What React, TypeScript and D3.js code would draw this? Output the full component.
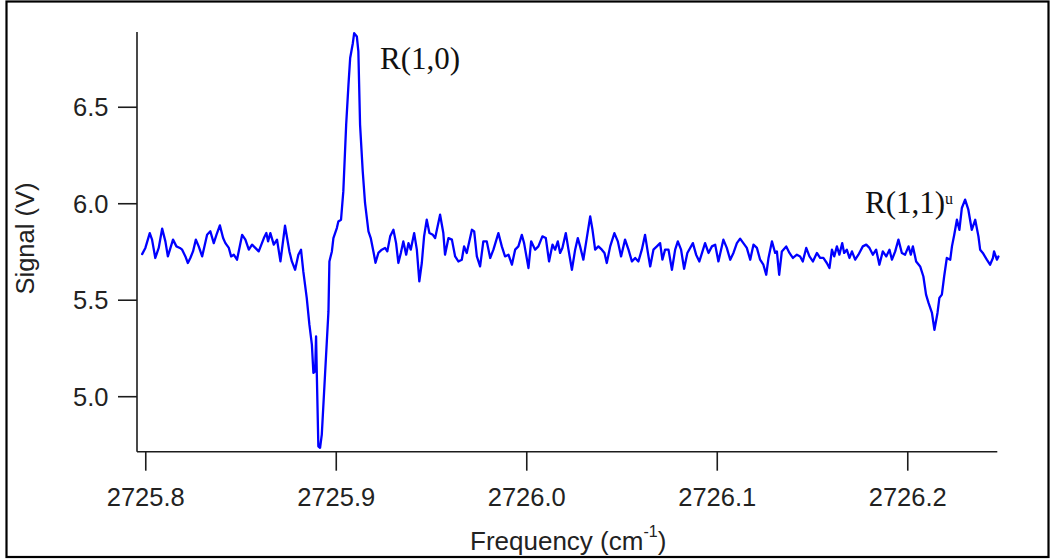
import React from "react";
import * as d3 from "d3";

const freq: number[] = [
  2725.7981, 2725.7998, 2725.8021, 2725.8033, 2725.805, 2725.8068, 2725.8086, 2725.8103, 2725.8116, 2725.8143,
  2725.8161, 2725.8179, 2725.8191, 2725.8208, 2725.8221, 2725.8234, 2725.8248, 2725.8263, 2725.8278, 2725.8296,
  2725.8322, 2725.8339, 2725.8357, 2725.8371, 2725.8389, 2725.8406, 2725.8418, 2725.8436, 2725.8448, 2725.8462,
  2725.8479, 2725.8488, 2725.8506, 2725.8523, 2725.8541, 2725.8558, 2725.8575, 2725.8593, 2725.862, 2725.8633,
  2725.8642, 2725.8654, 2725.8672, 2725.8689, 2725.8707, 2725.8731, 2725.8754, 2725.8767, 2725.8784, 2725.8801,
  2725.8815, 2725.8827, 2725.8845, 2725.8859, 2725.8872, 2725.888, 2725.8889, 2725.8894, 2725.8898, 2725.8906,
  2725.8915, 2725.8924, 2725.8941, 2725.8959, 2725.8964, 2725.8977, 2725.8985, 2725.9003, 2725.9011, 2725.9025,
  2725.9037, 2725.9052, 2725.9064, 2725.9073, 2725.9087, 2725.9094, 2725.9108, 2725.9116, 2725.9125, 2725.9139,
  2725.9151, 2725.9169, 2725.9181, 2725.9195, 2725.9206, 2725.9221, 2725.9239, 2725.9256, 2725.9268, 2725.9283,
  2725.93, 2725.9314, 2725.9326, 2725.9339, 2725.9352, 2725.9367, 2725.9379, 2725.9391, 2725.9409, 2725.9423,
  2725.9436, 2725.9449, 2725.9461, 2725.9475, 2725.9489, 2725.9507, 2725.9519, 2725.9545, 2725.9562, 2725.9571,
  2725.9589, 2725.9607, 2725.9624, 2725.9641, 2725.9659, 2725.9671, 2725.9685, 2725.9712, 2725.9724, 2725.9738,
  2725.9755, 2725.9772, 2725.979, 2725.9808, 2725.9825, 2725.9851, 2725.9869, 2725.9886, 2725.9904, 2725.9922,
  2725.9939, 2725.9956, 2725.9974, 2725.9986, 2726.0009, 2726.0023, 2726.0044, 2726.0061, 2726.0082, 2726.01,
  2726.0117, 2726.0135, 2726.0149, 2726.0163, 2726.0175, 2726.0187, 2726.0205, 2726.0219, 2726.0237, 2726.0254,
  2726.0268, 2726.028, 2726.0297, 2726.0315, 2726.0333, 2726.0345, 2726.0359, 2726.0376, 2726.0394, 2726.0408,
  2726.042, 2726.0438, 2726.046, 2726.0478, 2726.0495, 2726.0516, 2726.0534, 2726.0552, 2726.0569, 2726.0586,
  2726.0604, 2726.0621, 2726.0636, 2726.0648, 2726.0665, 2726.0683, 2726.07, 2726.0712, 2726.0726, 2726.0744,
  2726.0762, 2726.0779, 2726.0793, 2726.081, 2726.0826, 2726.0843, 2726.0872, 2726.0889, 2726.0906, 2726.0936,
  2726.0954, 2726.0972, 2726.0989, 2726.1006, 2726.1032, 2726.105, 2726.1068, 2726.1085, 2726.1103, 2726.112,
  2726.1137, 2726.1155, 2726.1173, 2726.119, 2726.1208, 2726.1225, 2726.1242, 2726.1257, 2726.1269, 2726.1287,
  2726.1304, 2726.1313, 2726.1325, 2726.1339, 2726.1362, 2726.1379, 2726.1397, 2726.1418, 2726.1435, 2726.1449,
  2726.1467, 2726.1484, 2726.1502, 2726.1523, 2726.154, 2726.1557, 2726.1575, 2726.1589, 2726.1602, 2726.1614,
  2726.1628, 2726.1641, 2726.1656, 2726.1666, 2726.168, 2726.1694, 2726.1707, 2726.1724, 2726.1741, 2726.1764,
  2726.1782, 2726.1799, 2726.1817, 2726.1834, 2726.1851, 2726.1869, 2726.1887, 2726.1904, 2726.1917, 2726.1934,
  2726.1951, 2726.1969, 2726.1986, 2726.2004, 2726.2016, 2726.2027, 2726.2044, 2726.2065, 2726.2082, 2726.2096,
  2726.2109, 2726.2127, 2726.214, 2726.2156, 2726.2166, 2726.2179, 2726.2191, 2726.2205, 2726.2223, 2726.2232,
  2726.2244, 2726.2258, 2726.2271, 2726.2284, 2726.2301, 2726.2318, 2726.2336, 2726.2354, 2726.2371, 2726.238,
  2726.2394, 2726.2415, 2726.2432, 2726.2447, 2726.2453, 2726.2468, 2726.2476,
];

const signal: number[] = [
  5.739, 5.771, 5.848, 5.814, 5.719, 5.771, 5.871, 5.805, 5.727, 5.814,
  5.779, 5.771, 5.762, 5.727, 5.693, 5.719, 5.753, 5.814, 5.779, 5.727,
  5.839, 5.857, 5.796, 5.839, 5.888, 5.822, 5.796, 5.771, 5.727, 5.736,
  5.71, 5.753, 5.839, 5.814, 5.762, 5.788, 5.771, 5.753, 5.822, 5.848,
  5.805, 5.848, 5.788, 5.814, 5.701, 5.886, 5.753, 5.701, 5.658, 5.736,
  5.762, 5.649, 5.512, 5.373, 5.27, 5.123, 5.131, 5.313, 5.114, 4.743,
  4.735, 4.803, 5.114, 5.442, 5.701, 5.753, 5.822, 5.874, 5.908, 5.917,
  6.064, 6.409, 6.616, 6.755, 6.832, 6.884, 6.867, 6.789, 6.409, 6.167,
  6.004, 5.857, 5.822, 5.753, 5.694, 5.745, 5.762, 5.771, 5.753, 5.831,
  5.865, 5.796, 5.693, 5.745, 5.805, 5.736, 5.796, 5.762, 5.848, 5.762,
  5.598, 5.693, 5.831, 5.917, 5.848, 5.839, 5.822, 5.943, 5.848, 5.736,
  5.822, 5.814, 5.727, 5.701, 5.71, 5.779, 5.745, 5.865, 5.857, 5.727,
  5.675, 5.805, 5.805, 5.719, 5.762, 5.848, 5.779, 5.727, 5.736, 5.684,
  5.762, 5.779, 5.839, 5.796, 5.667, 5.805, 5.762, 5.779, 5.831, 5.822,
  5.701, 5.788, 5.762, 5.805, 5.745, 5.771, 5.848, 5.762, 5.658, 5.762,
  5.822, 5.779, 5.71, 5.822, 5.934, 5.865, 5.762, 5.779, 5.762, 5.745,
  5.693, 5.779, 5.848, 5.805, 5.727, 5.814, 5.762, 5.701, 5.719, 5.701,
  5.762, 5.839, 5.745, 5.675, 5.762, 5.779, 5.796, 5.71, 5.762, 5.762,
  5.658, 5.762, 5.805, 5.762, 5.663, 5.745, 5.796, 5.736, 5.701, 5.796,
  5.745, 5.779, 5.788, 5.701, 5.814, 5.771, 5.71, 5.745, 5.796, 5.819,
  5.796, 5.771, 5.71, 5.788, 5.771, 5.71, 5.684, 5.632, 5.719, 5.805,
  5.745, 5.753, 5.632, 5.753, 5.779, 5.745, 5.719, 5.736, 5.727, 5.701,
  5.771, 5.727, 5.701, 5.745, 5.719, 5.719, 5.693, 5.667, 5.762, 5.727,
  5.779, 5.736, 5.796, 5.745, 5.762, 5.719, 5.753, 5.71, 5.736, 5.779,
  5.788, 5.771, 5.736, 5.762, 5.684, 5.753, 5.727, 5.762, 5.71, 5.753,
  5.814, 5.745, 5.736, 5.779, 5.736, 5.779, 5.701, 5.675, 5.623, 5.529,
  5.486, 5.434, 5.347, 5.434, 5.512, 5.529, 5.623, 5.719, 5.71, 5.779,
  5.839, 5.917, 5.865, 5.978, 6.021, 5.969, 5.865, 5.917, 5.831, 5.762,
  5.745, 5.71, 5.684, 5.719, 5.753, 5.71, 5.727,
];

const xTicks: number[] = [2725.8, 2725.9, 2726.0, 2726.1, 2726.2];
const yTicks: number[] = [5.0, 5.5, 6.0, 6.5];
const xDomain: [number, number] = [2725.7954, 2726.247];
const yDomain: [number, number] = [4.715, 6.89];

const W = 1051;
const H = 560;
const left = 137;
const right = 997.3;
const top = 32;
const bottom = 451.7;

export default function App() {
  const x = d3.scaleLinear().domain(xDomain).range([left, right]);
  const y = d3.scaleLinear().domain(yDomain).range([bottom, top]);
  const pts: [number, number][] = freq.map((f, i) => [f, signal[i]]);
  const line = d3
    .line<[number, number]>()
    .x((d) => x(d[0]))
    .y((d) => y(d[1]));
  const axisColor = "#1c1c1c";
  const sans = "'Liberation Sans', Arial, sans-serif";
  const serif = "'Liberation Serif', 'Times New Roman', serif";
  const tickLen = 19;
  return (
    <svg
      width={W}
      height={H}
      style={{ position: "absolute", left: 0, top: 0, display: "block", background: "#fff" }}
    >
      <rect x={0} y={0} width={W} height={H} fill="#fff" />
      <rect x={6.5} y={1.5} width={1042} height={555.5} fill="none" stroke="#000" strokeWidth={2.2} />
      <line x1={left} x2={left} y1={top} y2={bottom} stroke={axisColor} strokeWidth={1.6} />
      <line x1={left} x2={right} y1={bottom} y2={bottom} stroke={axisColor} strokeWidth={1.6} />
      {yTicks.map((t) => (
        <g key={"y" + t}>
          <line x1={left - tickLen} x2={left} y1={y(t)} y2={y(t)} stroke={axisColor} strokeWidth={1.6} />
          <text x={108.5} y={y(t) + 9} textAnchor="end" fontFamily={sans} fontSize={25.5} fill="#222">
            {t.toFixed(1)}
          </text>
        </g>
      ))}
      {xTicks.map((t) => (
        <g key={"x" + t}>
          <line x1={x(t)} x2={x(t)} y1={bottom} y2={bottom + tickLen} stroke={axisColor} strokeWidth={1.6} />
          <text x={x(t)} y={505.5} textAnchor="middle" fontFamily={sans} fontSize={25.5} fill="#222">
            {t.toFixed(1)}
          </text>
        </g>
      ))}
      <text x={470} y={550} fontFamily={sans} fontSize={26} fill="#222">
        Frequency (cm
        <tspan fontSize={16} dy={-13}>-1</tspan>
        <tspan dy={13}>)</tspan>
      </text>
      <text
        transform={`translate(33.5, 238.5) rotate(-90)`}
        textAnchor="middle"
        fontFamily={sans}
        fontSize={25.5}
        fill="#222"
      >
        Signal (V)
      </text>
      <path
        d={line(pts) || ""}
        fill="none"
        stroke="#0000ff"
        strokeWidth={2.3}
        strokeLinejoin="round"
        strokeLinecap="round"
      />
      <text x={380} y={69} fontFamily={serif} fontSize={31} fill="#111">
        R(1,0)
      </text>
      <text x={865} y={213.3} fontFamily={serif} fontSize={31} fill="#111">
        R(1,1)
        <tspan fontSize={16} dy={-9}>u</tspan>
      </text>
    </svg>
  );
}
